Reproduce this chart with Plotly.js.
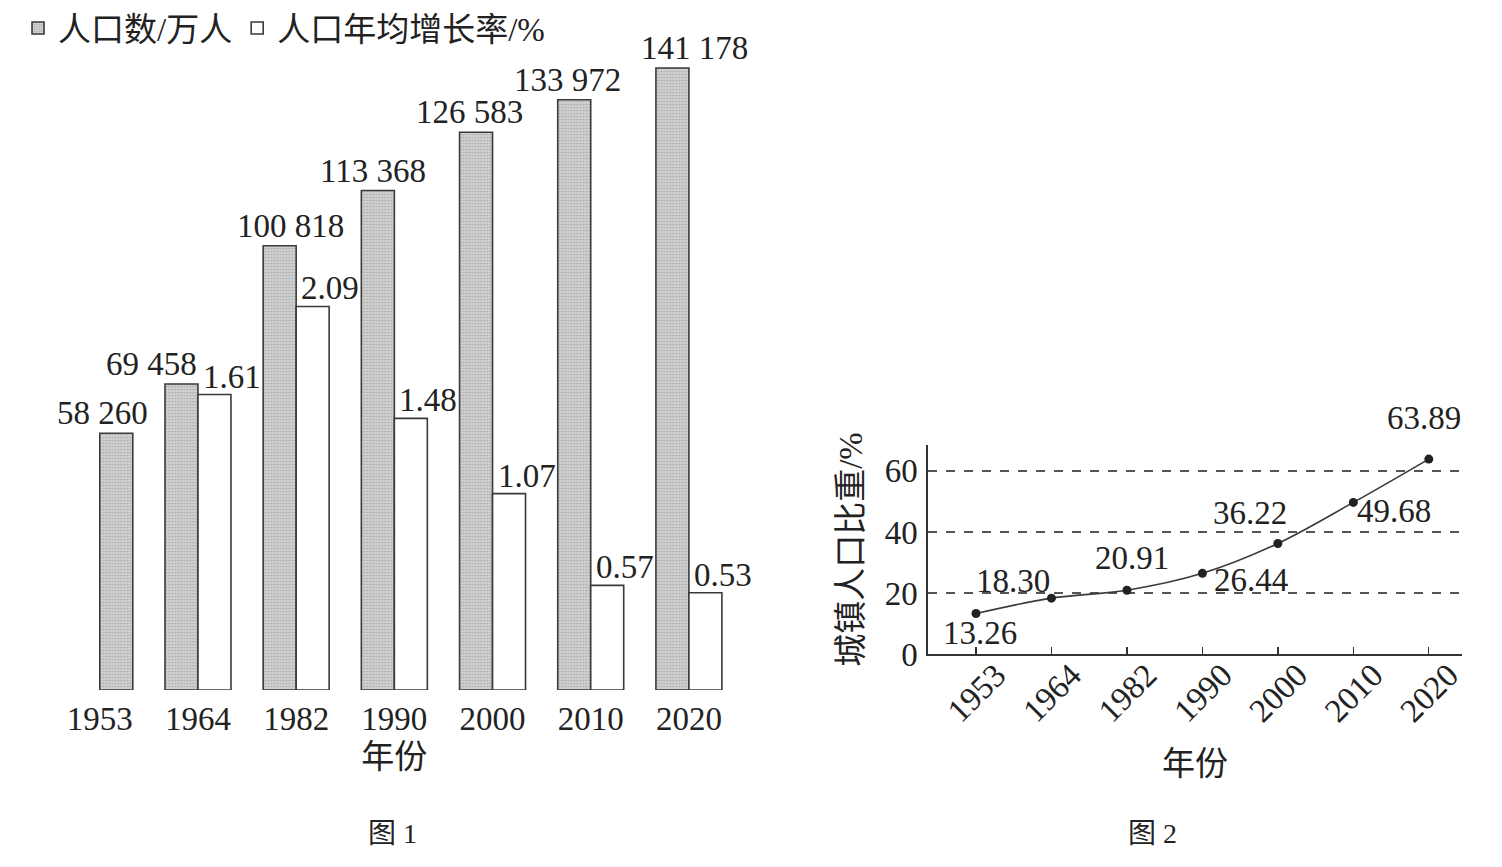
<!DOCTYPE html>
<html>
<head>
<meta charset="utf-8">
<script src="https://cdn.plot.ly/plotly-3.0.1.min.js"></script>
<style>html,body{margin:0;padding:0;background:#fff;}#chart{width:1502px;height:867px;}</style>
</head>
<body>
<div id="chart"></div>
<script>
// ---- data ----
var years = ['1953', '1964', '1982', '1990', '2000', '2010', '2020'];
var population = [58260, 69458, 100818, 113368, 126583, 133972, 141178];      // 万人
var growthRate = [null, 1.61, 2.09, 1.48, 1.07, 0.57, 0.53];                 // %
var urbanShare = [13.26, 18.30, 20.91, 26.44, 36.22, 49.68, 63.89];          // %
var growthLabels = ['', '1.61', '2.09', '1.48', '1.07', '0.57', '0.53'];
var urbanLabels = ['13.26', '18.30', '20.91', '26.44', '36.22', '49.68', '63.89'];
var legendNames = ['人口数/万人', '人口年均增长率/%'];

// ---- styles ----
var SERIF = "'Liberation Serif', 'Noto Sans CJK SC', serif";
var INK = '#222';
var NUM = 33;
var BAR_W = 0.336;
var popLabelShift = [3, -46, -6, -21, -23, -23, 6];
var rateLabelShift = 34;
var urbanLabelDx = [4, -38, 5, 49, -28, 41, -5];
var urbanLabelDy = [-19, 17, 32, -7, 30, -9, 41];

function fmt(n) {
  return String(n).replace(/\B(?=(\d{3})+(?!\d))/g, ' ');
}

var greyOffset = growthRate.map(function (g) { return g === null ? 0 : -BAR_W; });

var traces = [
  {
    type: 'bar', name: legendNames[0], x: years, y: population,
    xaxis: 'x', yaxis: 'y',
    width: BAR_W, offset: greyOffset,
    marker: {
      color: '#cbcbcb',
      line: {color: '#3a3a3a', width: 1.6},
      pattern: {shape: '.', fgcolor: '#a8a8a8', bgcolor: '#d0d0d0', size: 3, solidity: 0.25}
    },
    hoverinfo: 'skip'
  },
  {
    type: 'bar', name: legendNames[1], x: years, y: growthRate,
    xaxis: 'x', yaxis: 'y2',
    width: BAR_W, offset: 0,
    marker: {color: '#ffffff', line: {color: '#3a3a3a', width: 1.6}},
    hoverinfo: 'skip'
  },
  {
    type: 'scatter', mode: 'lines+markers', x: years, y: urbanShare,
    xaxis: 'x2', yaxis: 'y3', showlegend: false,
    line: {shape: 'spline', smoothing: 1, color: '#3a3a3a', width: 1.6},
    marker: {size: 9, color: '#222'},
    hoverinfo: 'skip'
  }
];

var annotations = [];
years.forEach(function (yr, i) {
  annotations.push({
    xref: 'x', yref: 'y', x: i, y: population[i], text: fmt(population[i]),
    showarrow: false, yanchor: 'bottom', xanchor: 'center', xshift: popLabelShift[i], yshift: 0,
    font: {family: SERIF, size: NUM, color: INK}
  });
  if (growthRate[i] !== null) {
    annotations.push({
      xref: 'x', yref: 'y2', x: i, y: growthRate[i], text: growthLabels[i],
      showarrow: false, yanchor: 'bottom', xanchor: 'center', xshift: rateLabelShift, yshift: -2,
      font: {family: SERIF, size: NUM, color: INK}
    });
  }
  annotations.push({
    xref: 'x2', yref: 'y3', x: i, y: urbanShare[i], text: urbanLabels[i],
    showarrow: false, xanchor: 'center', yanchor: 'middle',
    xshift: urbanLabelDx[i], yshift: urbanLabelDy[i],
    font: {family: SERIF, size: NUM, color: INK}
  });
});
annotations.push({xref: 'paper', yref: 'paper', x: 393 / 1502, y: 1 - 833 / 867, text: '图 1',
  showarrow: false, xanchor: 'center', yanchor: 'middle', font: {family: SERIF, size: 28, color: INK}});
annotations.push({xref: 'paper', yref: 'paper', x: 1152 / 1502, y: 1 - 833 / 867, text: '图 2',
  showarrow: false, xanchor: 'center', yanchor: 'middle', font: {family: SERIF, size: 28, color: INK}});

var layout = {
  width: 1502, height: 867,
  margin: {l: 0, r: 0, t: 0, b: 0},
  paper_bgcolor: '#fff', plot_bgcolor: '#fff',
  font: {family: SERIF, size: 30, color: INK},
  barmode: 'overlay',
  showlegend: true,
  legend: {
    orientation: 'h', x: 0.012, y: 1, xanchor: 'left', yanchor: 'top',
    font: {family: SERIF, size: 33, color: INK},
    itemwidth: 30, tracegroupgap: 0, bgcolor: 'rgba(0,0,0,0)'
  },
  xaxis: {
    domain: [50.7 / 1502, 738 / 1502], anchor: 'y', type: 'category',
    range: [-0.5, 6.5], showline: false, showgrid: false, zeroline: false, ticks: '',
    tickfont: {family: SERIF, size: NUM, color: INK}, ticklabelstandoff: 6,
    title: {text: '年份', font: {family: SERIF, size: 33, color: INK}, standoff: 8}
  },
  yaxis: {
    domain: [1 - 690 / 867, 1 - 40 / 867], anchor: 'x',
    range: [0, 147533], visible: false
  },
  yaxis2: {
    overlaying: 'y', anchor: 'x', range: [0, 3.542], visible: false
  },
  xaxis2: {
    domain: [928 / 1502, 1462 / 1502], anchor: 'y3', type: 'category',
    range: [-0.636, 6.44], showline: true, linecolor: '#333', linewidth: 1.6,
    showgrid: false, zeroline: false,
    ticks: 'inside', ticklen: 7, tickcolor: '#333', tickwidth: 1.4,
    tickangle: -45, ticklabelshift: 20, ticklabelstandoff: -13,
    tickfont: {family: SERIF, size: NUM, color: INK},
    title: {text: '年份', font: {family: SERIF, size: 33, color: INK}, standoff: 24}
  },
  yaxis3: {
    domain: [1 - 654 / 867, 1 - 445 / 867], anchor: 'x2',
    range: [0, 68.5], showline: true, linecolor: '#333', linewidth: 1.6,
    ticks: '', tickmode: 'array', tickvals: [0, 20, 40, 60],
    showgrid: true, gridcolor: '#555', gridwidth: 1.2, griddash: 'dash',
    zeroline: false, ticklabelstandoff: 2,
    tickfont: {family: SERIF, size: NUM, color: INK},
    title: {text: '城镇人口比重/%', font: {family: SERIF, size: 33, color: INK}, standoff: 12}
  },
  annotations: annotations
};

Plotly.newPlot('chart', traces, layout, {displayModeBar: false, staticPlot: true});
</script>
</body>
</html>
